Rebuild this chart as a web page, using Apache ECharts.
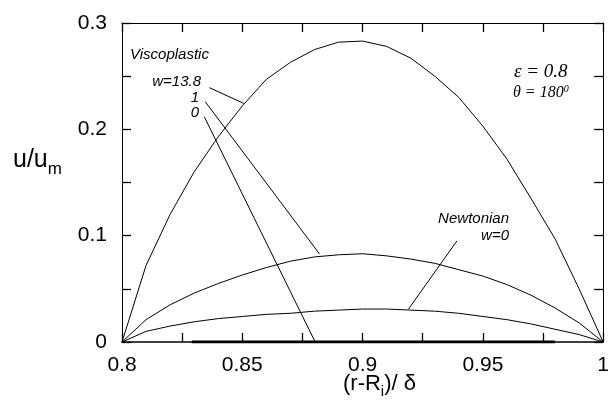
<!DOCTYPE html>
<html>
<head>
<meta charset="utf-8">
<script src="https://cdn.jsdelivr.net/npm/echarts@6/dist/echarts.min.js"></script>
<style>
  html, body { margin: 0; padding: 0; background: #fff; }
  #main { width: 612px; height: 407px; }
</style>
</head>
<body>
<div id="main"></div>
<script type="text/javascript">
// x positions (r-Ri)/delta
var xs = [0.80, 0.81, 0.82, 0.83, 0.84, 0.85, 0.86, 0.87, 0.88, 0.89, 0.90,
          0.91, 0.92, 0.93, 0.94, 0.95, 0.96, 0.97, 0.98, 0.99, 1.00];
// viscoplastic w=13.8
var uW138 = [0, 0.072, 0.120, 0.160, 0.193, 0.222, 0.247, 0.263, 0.275, 0.282, 0.283,
             0.278, 0.267, 0.250, 0.230, 0.203, 0.172, 0.135, 0.097, 0.050, 0];
// viscoplastic w=1
var uW1 = [0, 0.021, 0.035, 0.046, 0.055, 0.063, 0.070, 0.076, 0.080, 0.082, 0.083,
           0.081, 0.078, 0.074, 0.068, 0.062, 0.054, 0.044, 0.032, 0.018, 0];
// newtonian w=0
var uNewt = [0, 0.010, 0.015, 0.019, 0.022, 0.024, 0.026, 0.027, 0.029, 0.030, 0.031,
             0.031, 0.030, 0.029, 0.027, 0.024, 0.021, 0.017, 0.012, 0.007, 0];
// viscoplastic w=0 (zero velocity segment)
var zeroX = [0.829, 0.980];
var zeroY = [0, 0];

// leader lines [x1, y1, x2, y2]
var leaderW138 = [0.8363, 0.2392, 0.8506, 0.2244];
var leaderW1 = [0.8346, 0.2260, 0.8821, 0.0828];
var leaderW0 = [0.8342, 0.2119, 0.8803, 0.0];
var leaderNewt = [0.9392, 0.0950, 0.9191, 0.0310];

// tick labels
var xLabels = ['0.8', '0.85', '0.9', '0.95', '1'];
var yLabels = ['0', '0.1', '0.2', '0.3'];

function pairs(x, y) {
    var out = [];
    for (var i = 0; i < x.length; i++) out.push([x[i], y[i]]);
    return out;
}
function seg(l) { return [[l[0], l[1]], [l[2], l[3]]]; }

function curve(data, w) {
    return {
        type: 'line', data: data, symbol: 'none', silent: true,
        lineStyle: { color: '#000', width: w || 1 }, z: 3
    };
}

// ticks every step, labels only every labelStep
function makeAxis(min, max, step, pos, labels, labelStep, lineW) {
    return {
        type: 'value', min: min, max: max, interval: step, position: pos,
        axisLine: { show: true, onZero: false, lineStyle: { color: '#000', width: lineW || 1 } },
        axisTick: { show: true, inside: true, length: 9, lineStyle: { color: '#000', width: 1.3 } },
        splitLine: { show: false },
        axisLabel: labels ? {
            show: true, color: '#000', fontSize: 21, fontFamily: 'Liberation Sans, Arial',
            margin: pos === 'bottom' ? 13 : 15,
            formatter: function (v) {
                var k = Math.round((v - min) / labelStep * 1000) / 1000;
                return (k % 1 === 0) ? labels[k] : '';
            }
        } : { show: false }
    };
}

var myChart = echarts.init(document.getElementById('main'));
var option = {
    animation: false,
    grid: { left: 122, right: 1, top: 23, bottom: 65 },
    xAxis: [
        makeAxis(0.8, 1, 0.025, 'bottom', xLabels, 0.05, 1.5),
        makeAxis(0.8, 1, 0.025, 'top', null)
    ],
    yAxis: [
        makeAxis(0, 0.3, 0.05, 'left', yLabels, 0.1),
        makeAxis(0, 0.3, 0.05, 'right', null)
    ],
    graphic: [
        { type: 'text', left: 13, top: 148, style: {
            text: 'u/u{m|m}', fill: '#000', font: '25px "Liberation Sans", Arial',
            rich: { m: { fontSize: 17, fontFamily: 'Liberation Sans', padding: [18, 0, 0, 0] } }
        } },
        { type: 'text', left: 343, top: 373, style: {
            text: '(r-R{i|i})/ δ', fill: '#000', font: '22px "Liberation Sans", Arial',
            rich: { i: { fontSize: 15, fontFamily: 'Liberation Sans', padding: [16, 0, 0, 0] } }
        } },
        { type: 'text', left: 130, top: 47, style: {
            text: 'Viscoplastic', fill: '#000', font: 'italic 15px "Liberation Sans", Arial'
        } },
        { type: 'text', right: 612 - 201, top: 74, style: {
            text: 'w=13.8', fill: '#000', font: 'italic 15px "Liberation Sans", Arial', align: 'right'
        } },
        { type: 'text', right: 612 - 199, top: 90, style: {
            text: '1', fill: '#000', font: 'italic 15px "Liberation Sans", Arial', align: 'right'
        } },
        { type: 'text', right: 612 - 199, top: 105, style: {
            text: '0', fill: '#000', font: 'italic 15px "Liberation Sans", Arial', align: 'right'
        } },
        { type: 'text', left: 514, top: 62, style: {
            text: 'ε = 0.8', fill: '#000', font: 'italic 19px "Liberation Serif", "Times New Roman"'
        } },
        { type: 'text', left: 513, top: 84, style: {
            text: 'θ = 180{s|0}', fill: '#000', font: 'italic 16px "Liberation Serif", "Times New Roman"',
            rich: { s: { fontSize: 10, fontStyle: 'italic', fontFamily: 'Liberation Serif', padding: [0, 0, 8, 0] } }
        } },
        { type: 'text', right: 612 - 509, top: 211, style: {
            text: 'Newtonian', fill: '#000', font: 'italic 15px "Liberation Sans", Arial', align: 'right'
        } },
        { type: 'text', right: 612 - 509, top: 228, style: {
            text: 'w=0', fill: '#000', font: 'italic 15px "Liberation Sans", Arial', align: 'right'
        } }
    ],
    series: [
        curve(pairs(xs, uW138)),
        curve(pairs(xs, uW1)),
        curve(pairs(xs, uNewt)),
        curve(pairs(zeroX, zeroY), 3),
        curve(seg(leaderW138)),
        curve(seg(leaderW1)),
        curve(seg(leaderW0)),
        curve(seg(leaderNewt))
    ]
};
myChart.setOption(option);
</script>
</body>
</html>
